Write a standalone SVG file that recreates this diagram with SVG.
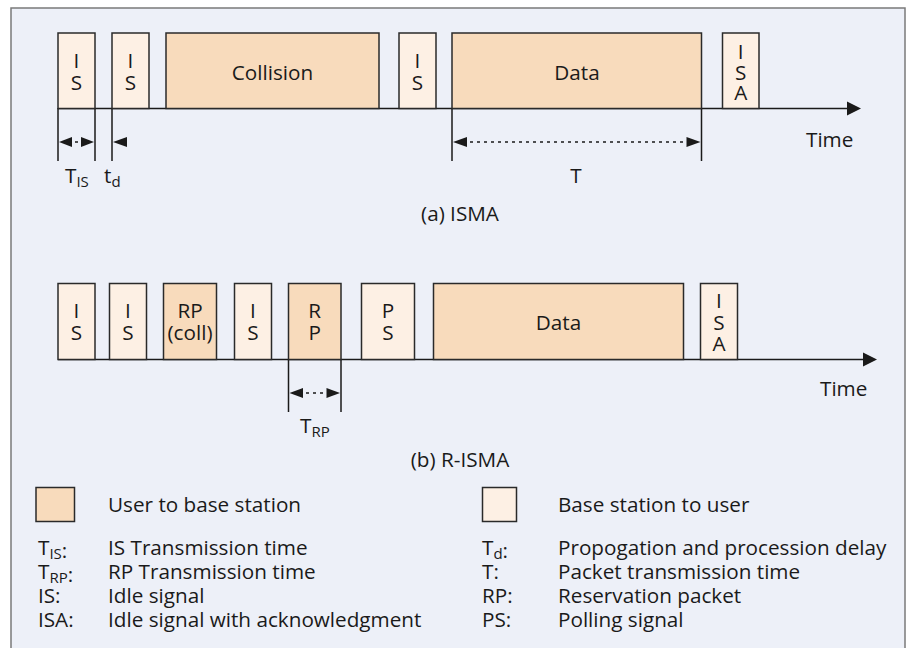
<svg xmlns="http://www.w3.org/2000/svg" width="907" height="648" viewBox="0 0 907 648">
<defs>
<style>
text{font-family:"Open Sans","DejaVu Sans",sans-serif;font-size:20.7px;fill:#1a1a1a}
.c{text-anchor:middle}
.sub{font-size:15px}
.u{fill:#F8DBBC;stroke:#2a2a2a;stroke-width:1.5}
.b{fill:#FDF0E4;stroke:#2a2a2a;stroke-width:1.5}
.ln{stroke:#1a1a1a;stroke-width:1.5;fill:none}
.dot{stroke:#1a1a1a;stroke-width:1.5;fill:none;stroke-dasharray:3 4}
.ah{fill:#1a1a1a}
</style>
</defs>
<rect x="11" y="8" width="894" height="660" fill="#EDF0F8" stroke="#7a7a7a" stroke-width="1.5"/>

<g id="connectors">
<line class="ln" x1="58" y1="108.5" x2="848" y2="108.5"/>
<polygon class="ah" points="847,101.5 861,108.5 847,115.5"/>
<line class="ln" x1="58" y1="108" x2="58" y2="161"/>
<line class="ln" x1="95" y1="108" x2="95" y2="161"/>
<line class="ln" x1="112" y1="108" x2="112" y2="161"/>
<line class="ln" x1="452" y1="108" x2="452" y2="161"/>
<line class="ln" x1="701.5" y1="108" x2="701.5" y2="161"/>
<polygon class="ah" points="59,142 72,137 72,147"/>
<polygon class="ah" points="94,142 81,137 81,147"/>
<line class="dot" x1="75" y1="142" x2="78" y2="142"/>
<polygon class="ah" points="113,142 127,137 127,147"/>
<polygon class="ah" points="453,142 467,137 467,147"/>
<polygon class="ah" points="700.5,142 686.5,137 686.5,147"/>
<line class="dot" x1="470" y1="142" x2="686" y2="142"/>

<line class="ln" x1="58" y1="359.5" x2="864" y2="359.5"/>
<polygon class="ah" points="863,352.5 877,359.5 863,366.5"/>
<line class="ln" x1="288.5" y1="359" x2="288.5" y2="412"/>
<line class="ln" x1="341" y1="359" x2="341" y2="412"/>
<polygon class="ah" points="289.5,393 303,388 303,398"/>
<polygon class="ah" points="340,393 326.5,388 326.5,398"/>
<line class="dot" x1="306" y1="393" x2="324" y2="393"/>
</g>

<g id="a-IS1"><rect class="b" x="58" y="33" width="37" height="75.5"/><text class="c" x="76.5" y="68">I</text><text class="c" x="76.5" y="90">S</text></g>
<g id="a-IS2"><rect class="b" x="112" y="33" width="37" height="75.5"/><text class="c" x="130.5" y="68">I</text><text class="c" x="130.5" y="90">S</text></g>
<g id="a-collision"><rect class="u" x="166" y="33" width="213" height="75.5"/><text class="c" x="272.5" y="80">Collision</text></g>
<g id="a-IS3"><rect class="b" x="399" y="33" width="37" height="75.5"/><text class="c" x="417.5" y="68">I</text><text class="c" x="417.5" y="90">S</text></g>
<g id="a-data"><rect class="u" x="452" y="33" width="249.5" height="75.5"/><text class="c" x="577" y="80">Data</text></g>
<g id="a-ISA"><rect class="b" x="722.5" y="33" width="36.5" height="75.5"/><text class="c" x="740.7" y="59">I</text><text class="c" x="740.7" y="79.5">S</text><text class="c" x="740.7" y="100">A</text></g>

<g id="a-labels">
<text x="65" y="183">T<tspan class="sub" dy="4">IS</tspan></text>
<text x="104" y="183">t<tspan class="sub" dy="4">d</tspan></text>
<text class="c" x="576" y="183">T</text>
<text x="806" y="147">Time</text>
<text class="c" x="460" y="221">(a) ISMA</text>
</g>

<g id="b-IS1"><rect class="b" x="58" y="283.5" width="37" height="76"/><text class="c" x="76.5" y="318">I</text><text class="c" x="76.5" y="340">S</text></g>
<g id="b-IS2"><rect class="b" x="109.5" y="283.5" width="37" height="76"/><text class="c" x="128" y="318">I</text><text class="c" x="128" y="340">S</text></g>
<g id="b-RPcoll"><rect class="u" x="163.5" y="283.5" width="53" height="76"/><text class="c" x="190" y="318">RP</text><text class="c" x="190" y="340">(coll)</text></g>
<g id="b-IS3"><rect class="b" x="234.5" y="283.5" width="37" height="76"/><text class="c" x="253" y="318">I</text><text class="c" x="253" y="340">S</text></g>
<g id="b-RP"><rect class="u" x="288.5" y="283.5" width="52.5" height="76"/><text class="c" x="314.7" y="318">R</text><text class="c" x="314.7" y="340">P</text></g>
<g id="b-PS"><rect class="b" x="361.5" y="283.5" width="53" height="76"/><text class="c" x="388" y="318">P</text><text class="c" x="388" y="340">S</text></g>
<g id="b-data"><rect class="u" x="433.5" y="283.5" width="250" height="76"/><text class="c" x="558.5" y="330">Data</text></g>
<g id="b-ISA"><rect class="b" x="700.5" y="283.5" width="37" height="76"/><text class="c" x="719" y="308">I</text><text class="c" x="719" y="329.5">S</text><text class="c" x="719" y="351">A</text></g>

<g id="b-labels">
<text x="300" y="433">T<tspan class="sub" dy="4">RP</tspan></text>
<text x="820" y="396">Time</text>
<text class="c" x="460" y="467">(b) R-ISMA</text>
</g>

<g id="legend">
<rect class="u" x="36" y="487.5" width="38.5" height="34"/>
<text x="108" y="512">User to base station</text>
<rect class="b" x="482.5" y="487.5" width="34" height="34"/>
<text x="558" y="512">Base station to user</text>

<text x="38" y="555">T<tspan class="sub" dy="4">IS</tspan><tspan dy="-1">:</tspan></text>
<text x="108" y="555">IS Transmission time</text>
<text x="38" y="579">T<tspan class="sub" dy="4">RP</tspan><tspan dy="-1">:</tspan></text>
<text x="108" y="579">RP Transmission time</text>
<text x="38" y="603">IS:</text>
<text x="108" y="603">Idle signal</text>
<text x="38" y="627">ISA:</text>
<text x="108" y="627">Idle signal with acknowledgment</text>

<text x="482" y="555">T<tspan class="sub" dy="4">d</tspan><tspan dy="-1">:</tspan></text>
<text x="558" y="555">Propogation and procession delay</text>
<text x="482" y="579">T:</text>
<text x="558" y="579">Packet transmission time</text>
<text x="482" y="603">RP:</text>
<text x="558" y="603">Reservation packet</text>
<text x="482" y="627">PS:</text>
<text x="558" y="627">Polling signal</text>
</g>
</svg>
